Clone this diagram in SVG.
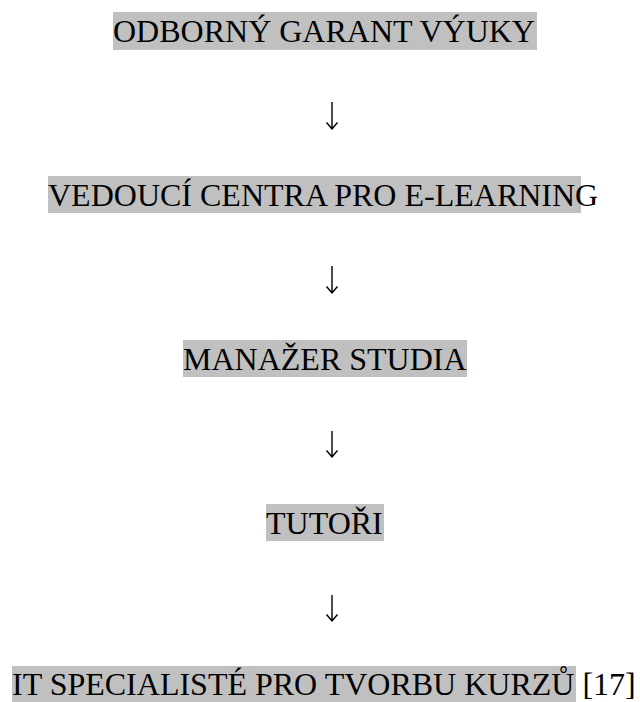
<svg xmlns="http://www.w3.org/2000/svg" width="640" height="702" viewBox="0 0 640 702">
<style>
.hl{fill:#c0c0c0}
.t{font-family:"Liberation Serif","Times New Roman",serif;font-size:32px;fill:#000}
.arr{fill:none;stroke:#000;stroke-width:1.4}
</style>
<rect width="640" height="702" fill="#fff"/>
<g id="node1"><rect class="hl" x="113" y="12" width="424" height="38"/><text class="t" x="113" y="42">ODBORNÝ GARANT VÝUKY</text></g>
<g id="node2"><rect class="hl" x="48" y="176" width="533" height="37"/><text class="t" x="48" y="206">VEDOUCÍ CENTRA PRO E-LEARNING</text></g>
<g id="node3"><rect class="hl" x="183" y="340" width="284" height="37"/><text class="t" x="183" y="370">MANAŽER STUDIA</text></g>
<g id="node4"><rect class="hl" x="266" y="504" width="118" height="37"/><text class="t" x="266" y="534">TUTOŘI</text></g>
<g id="node5"><rect class="hl" x="12" y="666" width="564" height="36"/><text class="t" x="12" y="695">IT SPECIALISTÉ PRO TVORBU KURZŮ<tspan fill="#000"> [17]</tspan></text></g>
<g id="connectors">
<path class="arr" d="M332 102V129M326.5 122.5L332 129L337.5 122.5"/>
<path class="arr" d="M332 266V293M326.5 286.5L332 293L337.5 286.5"/>
<path class="arr" d="M332 431V457M326.5 450.5L332 457L337.5 450.5"/>
<path class="arr" d="M332 595V621M326.5 614.5L332 621L337.5 614.5"/>
</g>
</svg>
